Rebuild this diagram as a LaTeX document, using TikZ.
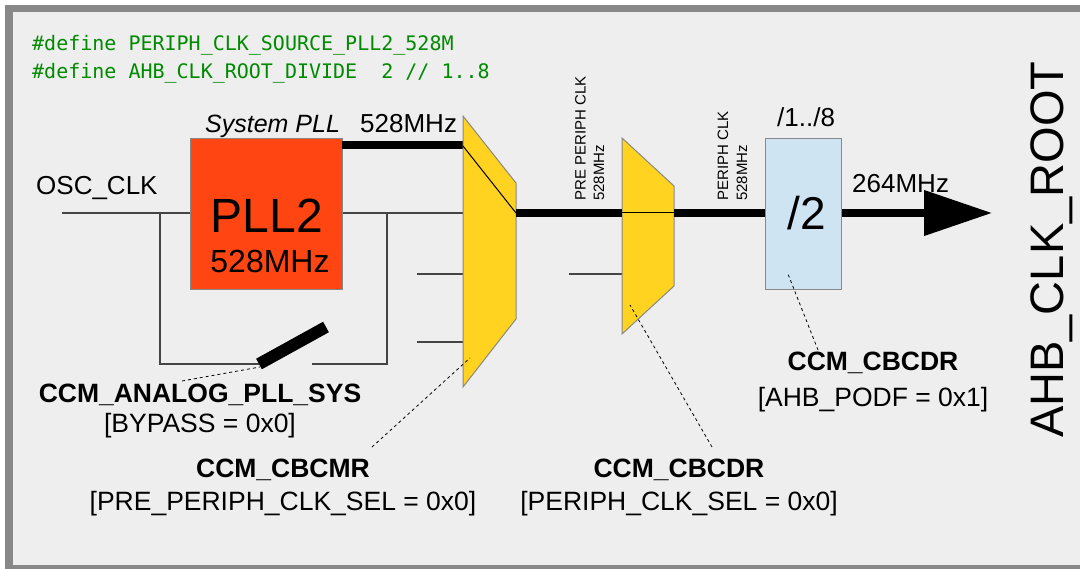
\documentclass[tikz,border=0pt]{standalone}
\usepackage{fontspec}
\setmainfont{Liberation Sans}
\newfontfamily\codefont{DejaVu Sans Mono}
\usetikzlibrary{arrows.meta}
\definecolor{bg}{HTML}{EEEEEE}
\definecolor{framegray}{HTML}{888888}
\definecolor{pllred}{HTML}{FF4511}
\definecolor{muxyellow}{HTML}{FFD320}
\definecolor{divblue}{HTML}{CFE4F3}
\definecolor{codegreen}{HTML}{008A00}
\definecolor{wiregray}{HTML}{444444}
\newcommand\fsz[1]{\fontsize{#1}{#1}\selectfont}
\begin{document}
\begin{tikzpicture}[x=1pt,y=-1pt,
  wire/.style={draw=wiregray, line width=1.3pt},
  bus/.style={draw=black, line width=7.5pt},
  muxshape/.style={draw=framegray, line width=1pt, fill=muxyellow},
  leader/.style={draw=black, line width=0.8pt, dash pattern=on 3pt off 3pt},
  txt/.style={inner sep=0pt, anchor=base, text=black},
  txtw/.style={inner sep=0pt, anchor=base west, text=black},
  code/.style={inner sep=0pt, anchor=base west, text=codegreen, font=\codefont\fsz{20pt}},
  vlabel/.style={inner sep=0pt, anchor=base west, rotate=90, font=\fsz{15pt}},
  reg/.style={txt, font=\bfseries\fsz{26.5pt}},
  regval/.style={txt, font=\fsz{26.5pt}}
]
\useasboundingbox (0,0) rectangle (1080,569);
\begin{scope}
  \clip (0,0) rectangle (1080,569);
  \draw[draw=framegray, line width=7.5pt, fill=bg] (8.75,8.75) rectangle (1100,568.75);
\end{scope}

% code
\node[code] (def1) at (32,51) {\#define PERIPH\_CLK\_SOURCE\_PLL2\_528M};
\node[code] (def2) at (32,79) {\#define AHB\_CLK\_ROOT\_DIVIDE\ \ 2 // 1..8};

% PLL block
\node[draw=framegray, line width=1pt, fill=pllred, minimum width=152pt, minimum height=151pt, inner sep=0pt, anchor=north west] (pll) at (190,138) {};
\node[txt, font=\fsz{48pt}] (pllname) at (267,233) {PLL2};
\node[txt, font=\fsz{32pt}] (pllfreq) at (270,273) {528MHz};
\node[txtw, font=\itshape\fsz{25pt}] (syspll) at (205,133) {System PLL};
\node[txtw, font=\fsz{26pt}] (f528) at (360,133) {528MHz};
\node[txtw, font=\fsz{26pt}] (osc) at (36,195) {OSC\_CLK};

% coordinates
\coordinate (oscin) at (62,213);
\coordinate (bypl) at (160,213);
\coordinate (bypld) at (160,364);
\coordinate (swa) at (259,364);
\coordinate (swb) at (326,327);
\coordinate (swr) at (312,364);
\coordinate (byprd) at (387,364);
\coordinate (bypr) at (387,213);
\coordinate (pllout) at (342,145);

\coordinate (m1tl) at (463,116);
\coordinate (m1tr) at (516,183);
\coordinate (m1br) at (516,319);
\coordinate (m1bl) at (463,387);
\coordinate (m1in1) at (463,146);
\coordinate (m1in2) at (463,213);
\coordinate (m1in3) at (463,274);
\coordinate (m1in4) at (463,342);
\coordinate (m1out) at (516,213);
\coordinate (s3) at (417,274);
\coordinate (s4) at (417,342);

\coordinate (m2tl) at (622,138);
\coordinate (m2tr) at (674,186);
\coordinate (m2br) at (674,286);
\coordinate (m2bl) at (622,334);
\coordinate (m2in1) at (622,213);
\coordinate (m2in2) at (622,274);
\coordinate (m2out) at (674,213);
\coordinate (s5) at (569,274);

% wires
\draw[wire] (oscin) -- (pll.west |- oscin);
\draw[wire] (bypl) -- (bypld) -- (swa);
\draw[wire] (swr) -- (byprd) -- (bypr);
\draw[wire] (pll.east |- m1in2) -- (m1in2);
\draw[wire] (s3) -- (m1in3);
\draw[wire] (s4) -- (m1in4);
\draw[wire] (s5) -- (m2in2);
\draw[draw=black, line width=12pt] (swa) -- (swb);
\draw[bus] (pllout) -- (m1in1 |- pllout);

% muxes
\draw[muxshape] (m1tl) -- (m1tr) -- (m1br) -- (m1bl) -- cycle;
\draw[draw=black, line width=1pt] (m1in1) -- (m1out);
\draw[muxshape] (m2tl) -- (m2tr) -- (m2br) -- (m2bl) -- cycle;
\draw[draw=black, line width=1pt] (m2in1) -- (m2out);

% divider
\node[draw=framegray, line width=1pt, fill=divblue, minimum width=76pt, minimum height=151pt, inner sep=0pt, anchor=north west] (div) at (765,138) {};
\node[txt, font=\fsz{46pt}] (divtxt) at (807,230) {/2};
\node[txtw, font=\fsz{26pt}] (divrange) at (777,127) {/1../8};

\draw[bus] (m1out) -- (m2in1);
\draw[bus] (m2out) -- (div.west |- m2out);
\coordinate (tip) at (992,213);
\draw[bus, -{Triangle[length=68pt,width=44pt]}] (div.east |- tip) -- (tip);
\node[txtw, font=\fsz{26pt}] (f264) at (852,193) {264MHz};

% vertical labels
\node[vlabel] (pp1) at (585.7,201) {PRE PERIPH CLK};
\node[vlabel] (pp2) at (604,201) {528MHz};
\node[vlabel] (p1) at (728,201) {PERIPH CLK};
\node[vlabel] (p2) at (747,201) {528MHz};
\node[inner sep=0pt, anchor=base west, rotate=90, font=\fsz{47pt}] (ahb) at (1063,438) {AHB\_CLK\_ROOT};

% callouts
\node[reg] (r1) at (200,403) {CCM\_ANALOG\_PLL\_SYS};
\node[regval] (r1v) at (200,433) {[BYPASS = 0x0]};
\node[reg] (r2) at (283,478) {CCM\_CBCMR};
\node[regval] (r2v) at (283,510) {[PRE\_PERIPH\_CLK\_SEL = 0x0]};
\node[reg] (r3) at (679,478) {CCM\_CBCDR};
\node[regval] (r3v) at (679,510) {[PERIPH\_CLK\_SEL = 0x0]};
\node[reg] (r4) at (873,371) {CCM\_CBCDR};
\node[regval] (r4v) at (873,407) {[AHB\_PODF = 0x1]};

\coordinate (l1a) at (182,381);
\coordinate (l1b) at (260,367);
\coordinate (l2a) at (372,447);
\coordinate (l2b) at (470,358);
\coordinate (l3a) at (712,447);
\coordinate (l3b) at (630,305);
\coordinate (l4a) at (818,350);
\coordinate (l4b) at (788,274);
\draw[leader] (l1a) -- (l1b);
\draw[leader] (l2a) -- (l2b);
\draw[leader] (l3a) -- (l3b);
\draw[leader] (l4a) -- (l4b);
\end{tikzpicture}
\end{document}
